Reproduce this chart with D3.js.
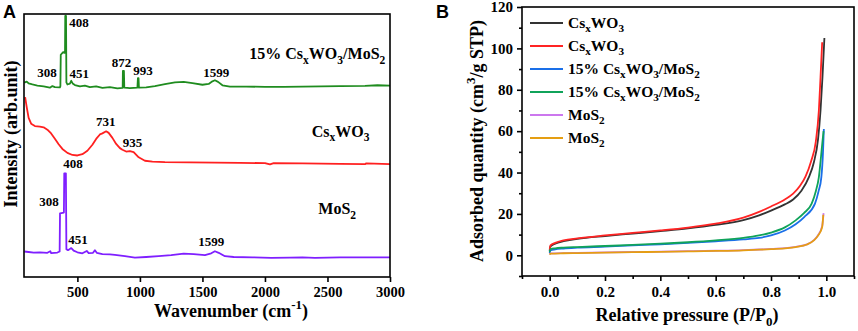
<!DOCTYPE html>
<html>
<head>
<meta charset="utf-8">
<script src="https://cdn.jsdelivr.net/npm/d3@7"></script>
<style>
  body { margin: 0; background: #fff; }
  text { font-family: "Liberation Serif", "Times New Roman", serif; font-weight: bold; fill: #000; }
  .panel-letter { font-family: "Liberation Sans", Arial, sans-serif; }
</style>
</head>
<body>
<div id="container"></div>
<script>
//DATA - panel A, Raman spectra [wavenumber, intensity a.u. with offset]
const ramanComposite = [
  [75,73.9],[95,74.3],[110,73.6],[140,73.2],[180,72.8],[230,72.5],[280,72.0],[300,72.6],[320,72.2],
  [360,72.1],[364,72.6],[367,84.5],[386,85.5],[398,85.2],[401,86],[403,99.3],[409,99.3],[412,74],
  [420,73.2],[440,73.5],[451,74.6],[462,73.6],[480,73.0],[520,72.5],[560,72.8],[600,72.2],[650,72.5],
  [700,71.9],[760,72.2],[820,71.7],[862,71.9],[864,78.4],[872,78.4],[875,72],[920,71.8],[980,72],
  [984,75.6],[989,75.6],[992,72],[1050,72.1],[1120,72.6],[1200,73.3],[1280,74.0],[1350,74.2],
  [1420,73.7],[1500,73.1],[1550,73.4],[1580,74.4],[1600,74.8],[1625,74.2],[1660,72.9],[1720,72.4],
  [1850,72.4],[2000,72.3],[2150,72.3],[2300,72.4],[2450,72.5],[2600,72.6],[2800,72.7],[2900,72.9],[3000,72.8]
]
const ramanCsWO3 = [
  [82,68.4],[95,64.5],[110,60.5],[130,58.3],[160,57.4],[200,57.2],[230,56.9],[260,56.0],[290,54.6],
  [320,52.6],[350,50.5],[380,48.7],[420,47.2],[460,46.4],[500,46.2],[540,46.7],[580,48.0],[620,50.3],
  [650,52.5],[680,54.2],[700,54.6],[730,55.4],[750,54.8],[780,52.9],[810,50.6],[840,49.0],[860,48.4],
  [890,47.7],[920,47.9],[950,47.5],[990,45.5],[1040,44.2],[1100,43.9],[1200,43.7],[1400,43.6],
  [1600,43.5],[1800,43.4],[2000,43.3],[2040,42.8],[2070,43.3],[2300,43.2],[2600,43.0],[2800,42.9],
  [2810,43.2],[3000,42.9]
]
const ramanMoS2 = [
  [75,9.7],[110,9.5],[150,9.3],[200,9.4],[260,9.2],[283,9.8],[290,9.1],[340,9.3],[358,9.7],[361,24.2],
  [392,24.5],[395,39.4],[408,39.4],[412,10.6],[425,10.2],[451,11.0],[470,10.0],[500,9.4],[540,9.0],
  [575,9.9],[590,9.1],[625,9.2],[640,10.2],[655,9.2],[700,8.7],[760,8.6],[800,8.4],[880,7.9],[960,7.4],
  [1050,7.6],[1150,7.9],[1250,8.3],[1350,8.9],[1430,8.7],[1520,8.3],[1570,9.0],[1600,9.8],[1630,9.2],
  [1680,7.9],[1750,7.6],[1900,7.5],[2050,7.3],[2200,7.4],[2300,7.5],[2400,7.3],[2600,7.5],[2800,7.5],[3000,7.5]
]
const ticksA = [500, 1000, 1500, 2000, 2500, 3000]

// peak labels: [text, wavenumber, intensity] (text start / baseline)
const peaksComposite = [["408",435,94.9],["308",179,75.9],["451",437,75.5],["872",775,80.0],["993",947,76.8],["1599",1507,75.9]]
const peaksCsWO3 = [["731",649,57.4],["935",862,49.5]]
const peaksMoS2 = [["408",387,41.4],["308",195,27.0],["451",427,12.5],["1599",1467,11.9]]

//DATA - panel B, N2 isotherms [P/P0, cm3/g STP]
const isoCsWO3a = [
  [0,2.0],[0.003,4.3],[0.02,5.6],[0.05,6.8],[0.1,7.9],[0.2,9.3],[0.3,10.5],[0.4,11.7],[0.5,13.0],
  [0.6,14.7],[0.7,17.0],[0.757,19.3],[0.8,21.6],[0.85,24.6],[0.88,27.0],[0.91,31.2],[0.937,37.8],
  [0.955,45],[0.97,56],[0.979,70],[0.986,86],[0.993,105]
]
const isoCsWO3b = [
  [0,2.6],[0.003,4.8],[0.02,6.0],[0.05,7.2],[0.1,8.2],[0.2,9.6],[0.3,10.8],[0.4,12.0],[0.5,13.4],
  [0.6,15.3],[0.7,18.2],[0.757,21.0],[0.8,23.6],[0.85,27.0],[0.88,29.8],[0.905,33.6],[0.925,38.2],
  [0.945,45.5],[0.962,55],[0.973,70],[0.979,86],[0.985,103]
]
const isoCompA = [
  [0,1.0],[0.003,2.4],[0.02,2.9],[0.05,3.3],[0.1,3.7],[0.2,4.2],[0.3,4.8],[0.4,5.3],[0.5,6.0],
  [0.6,6.8],[0.7,7.7],[0.757,8.4],[0.8,9.6],[0.85,12],[0.889,15],[0.92,18.5],[0.959,25],[0.972,31],
  [0.982,37.8],[0.988,50],[0.991,61]
]
const isoCompB = [
  [0,1.5],[0.003,3.0],[0.02,3.4],[0.05,3.7],[0.1,4.0],[0.2,4.5],[0.3,5.0],[0.4,5.6],[0.5,6.3],
  [0.6,7.2],[0.7,8.4],[0.757,9.6],[0.8,11],[0.85,13.5],[0.889,16.9],[0.92,20.5],[0.947,25],[0.962,31],
  [0.973,37.8],[0.981,48],[0.986,55],[0.99,60]
]
const isoMoS2a = [
  [0,0.4],[0.003,0.9],[0.05,1.1],[0.1,1.2],[0.2,1.4],[0.3,1.6],[0.4,1.8],[0.5,2.0],[0.6,2.2],
  [0.7,2.5],[0.757,2.8],[0.8,3.1],[0.889,4.1],[0.93,5.3],[0.955,7.3],[0.97,9.7],[0.985,14.2],[0.99,20.4]
]
const isoMoS2b = [
  [0,0.3],[0.003,0.8],[0.05,1.0],[0.1,1.1],[0.2,1.3],[0.3,1.5],[0.4,1.7],[0.5,1.9],[0.6,2.1],
  [0.7,2.4],[0.757,2.7],[0.8,3.0],[0.889,4.0],[0.93,5.2],[0.955,7.2],[0.97,9.5],[0.985,13.7],[0.989,19.6]
]
const ticksBx = [0, 0.2, 0.4, 0.6, 0.8, 1.0]
const minorBx = [-0.1, 0.1, 0.3, 0.5, 0.7, 0.9, 1.1]
const ticksBy = [0, 20, 40, 60, 80, 100, 120]
const minorBy = [-10, 10, 30, 50, 70, 90, 110]

// rich text pieces: [text, 'sub'|'sup'|undefined]
const nameCsWO3 = [["Cs"],["x","sub"],["WO"],["3","sub"]]
const nameComposite = [["15% Cs"],["x","sub"],["WO"],["3","sub"],["/MoS"],["2","sub"]]
const nameMoS2 = [["MoS"],["2","sub"]]

const legendNames = [nameCsWO3, nameCsWO3, nameComposite, nameComposite, nameMoS2, nameMoS2]
const colorsB = ["#333333", "#ff2424", "#1a6fe8", "#10a35a", "#cc77ee", "#e59e12"]
const seriesB = [isoCsWO3a, isoCsWO3b, isoCompA, isoCompB, isoMoS2a, isoMoS2b]

//CONSTANTS
const width = 858, height = 331

const svg = d3.select("#container")
  .append("svg")
  .attr("width", width)
  .attr("height", height)

function richText(sel, parts, size) {
  let shift = 0
  parts.forEach(([s, kind]) => {
    const target = kind === "sub" ? size * 0.28 : kind === "sup" ? -size * 0.42 : 0
    const t = sel.append("tspan").text(s).attr("dy", target - shift)
    if (kind) t.attr("font-size", size * 0.72)
    shift = target
  })
}

// ---------- PANEL A ----------
const xA = d3.scaleLinear().domain([73, 3000]).range([24, 390])
const yA = d3.scaleLinear().domain([0, 100]).range([277, 14])

const gA = svg.append("g")

const lineA = d3.line().x(d => xA(d[0])).y(d => yA(d[1]))

gA.selectAll("path.spec")
  .data([[ramanComposite, "#1f8c1f"], [ramanCsWO3, "#ff2020"], [ramanMoS2, "#7f1fff"]])
  .join("path")
  .attr("class", "spec")
  .attr("fill", "none")
  .attr("stroke", d => d[1])
  .attr("stroke-width", 1.8)
  .attr("stroke-linejoin", "round")
  .attr("d", d => lineA(d[0]))

gA.append("rect")
  .attr("x", 24).attr("y", 14)
  .attr("width", 366).attr("height", 263)
  .attr("fill", "none").attr("stroke", "#000").attr("stroke-width", 1.6)

const xAxisA = gA.append("g")
  .attr("transform", `translate(0, ${277})`)
  .call(d3.axisBottom(xA).tickValues(ticksA).tickFormat(d3.format("d")).tickSize(5).tickPadding(5).tickSizeOuter(0))
xAxisA.select(".domain").remove()
xAxisA.selectAll("line").attr("stroke-width", 1.6)
xAxisA.selectAll("text").attr("font-size", 14.5).attr("font-family", null)

gA.selectAll("text.peak")
  .data([...peaksComposite, ...peaksCsWO3, ...peaksMoS2])
  .join("text")
  .attr("class", "peak")
  .attr("x", d => xA(d[1]))
  .attr("y", d => yA(d[2]))
  .attr("font-size", 13)
  .text(d => d[0])

const labA = [[nameComposite, 1875, 82.8], [nameCsWO3, 2374, 53.3], [nameMoS2, 2427, 23.8]]
labA.forEach(([parts, wn, v]) => {
  const t = gA.append("text").attr("x", xA(wn)).attr("y", yA(v)).attr("font-size", 16)
  richText(t, parts, 16)
})

gA.append("text")
  .attr("transform", "translate(17, 134) rotate(-90)")
  .attr("text-anchor", "middle")
  .attr("font-size", 18)
  .text("Intensity (arb.unit)")

const titleA = gA.append("text")
  .attr("x", 231).attr("y", 317)
  .attr("text-anchor", "middle")
  .attr("font-size", 18)
richText(titleA, [["Wavenumber (cm"], ["-1", "sup"], [")"]], 18)

svg.append("text").attr("class", "panel-letter")
  .attr("x", 3).attr("y", 18).attr("font-size", 18).text("A")

// ---------- PANEL B ----------
const xB = d3.scaleLinear().domain([-0.1, 1.1]).range([522, 854])
const yB = d3.scaleLinear().domain([-10, 120]).range([276, 7])

const gB = svg.append("g")
const lineB = d3.line().curve(d3.curveMonotoneX).x(d => xB(d[0])).y(d => yB(d[1]))

gB.selectAll("path.iso")
  .data(seriesB)
  .join("path")
  .attr("class", "iso")
  .attr("fill", "none")
  .attr("stroke", (d, i) => colorsB[i])
  .attr("stroke-width", 1.8)
  .attr("d", d => lineB(d))

gB.append("rect")
  .attr("x", 522).attr("y", 7)
  .attr("width", 332).attr("height", 269)
  .attr("fill", "none").attr("stroke", "#000").attr("stroke-width", 1.6)

const xAxisB = gB.append("g")
  .attr("transform", `translate(0, ${276})`)
  .call(d3.axisBottom(xB).tickValues(ticksBx).tickFormat(d3.format(".1f")).tickSize(5).tickPadding(5))
const xMinorB = gB.append("g")
  .attr("transform", `translate(0, ${276})`)
  .call(d3.axisBottom(xB).tickValues(minorBx).tickFormat("").tickSize(3))
const yAxisB = gB.append("g")
  .attr("transform", `translate(${522}, 0)`)
  .call(d3.axisLeft(yB).tickValues(ticksBy).tickSize(5).tickPadding(4))
const yMinorB = gB.append("g")
  .attr("transform", `translate(${522}, 0)`)
  .call(d3.axisLeft(yB).tickValues(minorBy).tickFormat("").tickSize(3))

;[xAxisB, xMinorB, yAxisB, yMinorB].forEach(a => {
  a.select(".domain").remove()
  a.selectAll("line").attr("stroke-width", 1.6)
  a.selectAll("text").attr("font-size", 15).attr("font-family", null)
})

// legend
const legend = gB.append("g")
legendNames.forEach((parts, i) => {
  const y = 23 + i * 23
  legend.append("line")
    .attr("x1", 530).attr("x2", 563)
    .attr("y1", y).attr("y2", y)
    .attr("stroke", colorsB[i]).attr("stroke-width", 2)
  const t = legend.append("text").attr("x", 568).attr("y", y + 5).attr("font-size", 15.5)
  richText(t, parts, 15.5)
})

const yTitleB = gB.append("text")
  .attr("transform", "translate(483, 141) rotate(-90)")
  .attr("text-anchor", "middle")
  .attr("font-size", 18)
richText(yTitleB, [["Adsorbed quantity (cm"], ["3", "sup"], ["/g STP)"]], 18)

const xTitleB = gB.append("text")
  .attr("x", 687).attr("y", 321)
  .attr("text-anchor", "middle")
  .attr("font-size", 18)
richText(xTitleB, [["Relative pressure (P/P"], ["0", "sub"], [")"]], 18)

svg.append("text").attr("class", "panel-letter")
  .attr("x", 436).attr("y", 18).attr("font-size", 18).text("B")
</script>
</body>
</html>
